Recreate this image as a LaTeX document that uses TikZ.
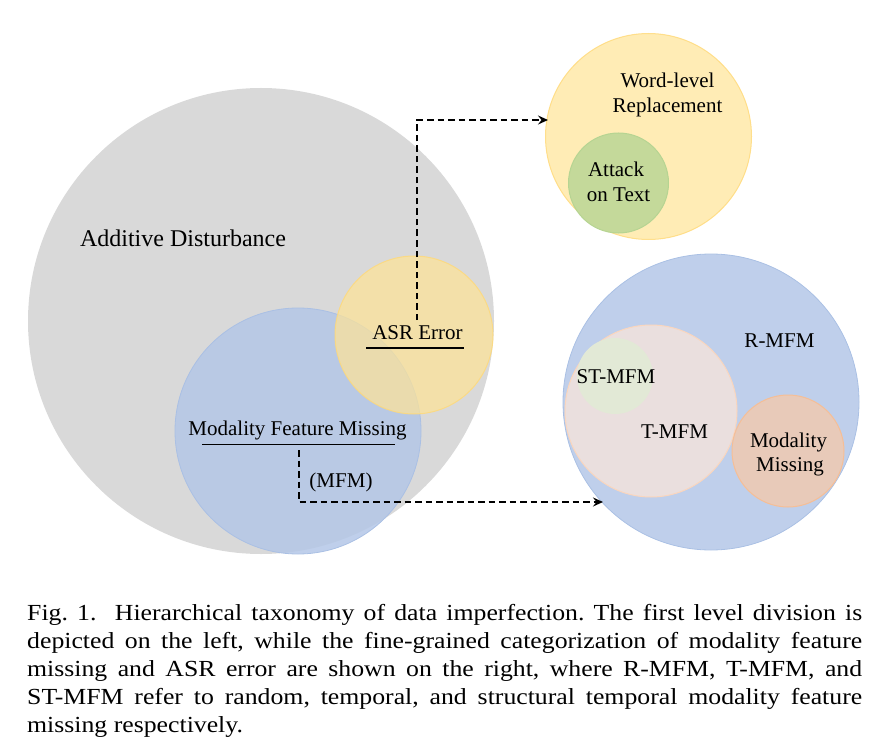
\documentclass[tikz,border=0pt]{standalone}
\usepackage{fontspec}
\setmainfont{Liberation Serif}
\newfontfamily\capfont{Liberation Serif}[FakeStretch=1.12]
\usetikzlibrary{arrows.meta}
\definecolor{cgray}{RGB}{217,217,217}
\definecolor{cblue}{RGB}{180,199,231}
\definecolor{cblueb}{RGB}{170,192,228}
\definecolor{cyellow}{RGB}{255,228,150}
\definecolor{cyellowb}{RGB}{255,217,120}
\definecolor{cgreen}{RGB}{196,217,154}
\definecolor{cgreenb}{RGB}{182,212,146}
\definecolor{cpink}{RGB}{234,223,222}
\definecolor{cpinkb}{RGB}{250,214,190}
\definecolor{clgreen}{RGB}{226,233,214}
\definecolor{corange}{RGB}{232,202,185}
\definecolor{coranb}{RGB}{246,190,150}
\tikzset{
  disc/.style={circle, inner sep=0pt, minimum size=#1},
  lbl/.style={font=\fontsize{21}{25}\selectfont, inner sep=0pt, anchor=base},
  dashconn/.style={line width=1.5pt, dash pattern=on 6.5pt off 4pt, -{Stealth[length=10pt,width=9pt,inset=3.5pt]}},
  uline/.style={line width=1.5pt}
}
\begin{document}
\begin{tikzpicture}[x=1pt,y=-1pt]
\useasboundingbox (0,0) rectangle (878,754);
% left group
\node[disc=466pt, fill=cgray] (gray) at (261,321) {};
\node[disc=246pt, fill=cblue, fill opacity=0.85, draw=cblueb, line width=0.8pt] (mfmc) at (298,431) {};
\node[disc=158pt, fill=cyellow, fill opacity=0.7, draw=cyellowb, draw opacity=0.8, line width=1pt] (asrc) at (414,335) {};
% top right
\node[disc=206pt, fill=cyellow, fill opacity=0.7, draw=cyellowb, draw opacity=0.8, line width=1pt] (wordc) at (648.5,136.5) {};
\node[disc=100pt, fill=cgreen, draw=cgreenb, line width=1pt] (attc) at (618.5,183) {};
% bottom right
\node[disc=296pt, fill=cblue, fill opacity=0.85, draw=cblueb, line width=0.8pt] (rmfmc) at (711,402) {};
\node[disc=172pt, fill=cpink, draw=cpinkb, line width=1pt] (tmfmc) at (651,411) {};
\node[disc=76pt, fill=clgreen] (stmfmc) at (615,376) {};
\node[disc=112pt, fill=corange, draw=coranb, line width=1pt] (mmc) at (788,451) {};
% labels
\node[lbl, font=\fontsize{24}{28}\selectfont] (add) at (183,247) {Additive Disturbance};
\node[lbl] (asr) at (417.5,339) {ASR Error};
\node[lbl] (mfm) at (297.5,435) {Modality Feature Missing};
\node[lbl] (mfmab) at (341,487) {(MFM)};
\node[lbl] (word) at (667.5,88) {Word-level};
\node[lbl] (repl) at (667.5,113) {Replacement};
\node[lbl] (attack) at (616,177) {Attack};
\node[lbl] (ontext) at (618.5,202) {on Text};
\node[lbl] (rmfm) at (779.5,347) {R-MFM};
\node[lbl] (stmfm) at (616,383) {ST-MFM};
\node[lbl] (tmfm) at (674.5,438) {T-MFM};
\node[lbl] (moda) at (788.5,447) {Modality};
\node[lbl] (miss) at (790,471) {Missing};
% underlines
\coordinate (asrL) at (366,348);
\coordinate (asrR) at (464,348);
\coordinate (mfmL) at (202,444.5);
\coordinate (mfmR) at (395,444.5);
\draw[uline] (asrL) -- (asrR);
\draw[uline] (mfmL) -- (mfmR);
% connectors
\coordinate (asrS) at (417,320);
\coordinate (wtip) at (548,120);
\coordinate (mfmS) at (299,450);
\coordinate (rtip) at (603,502);
\draw[dashconn] (asrS) |- (wtip);
\draw[dashconn] (mfmS) |- (rtip);
% caption
\node[anchor=base west, inner sep=0pt, text width=835pt, align=justify,
      font=\capfont\fontsize{23}{28}\selectfont\frenchspacing] (cap) at (27,620) {%
Fig. 1.\ \ Hierarchical taxonomy of data imperfection. The first level division is\linebreak
depicted on the left, while the fine-grained categorization of modality feature\linebreak
missing and ASR error are shown on the right, where R-MFM, T-MFM, and\linebreak
ST-MFM refer to random, temporal, and structural temporal modality feature\linebreak
missing respectively.};
\end{tikzpicture}
\end{document}
